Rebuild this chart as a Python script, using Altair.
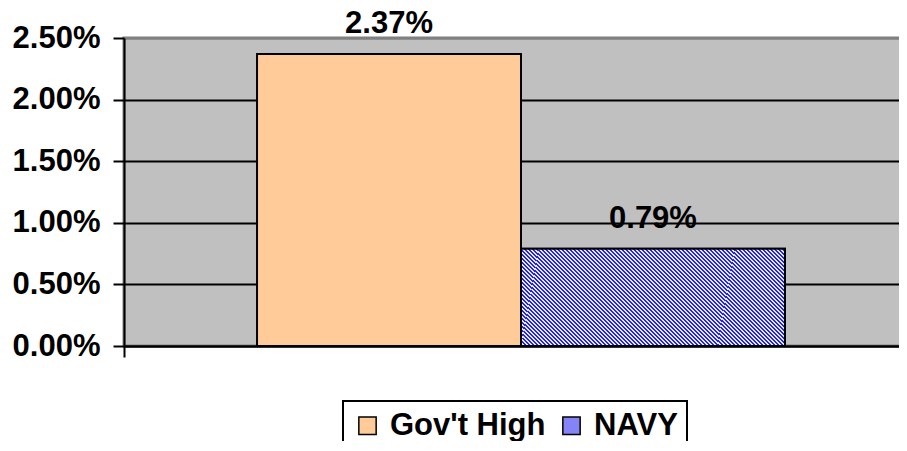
import altair as alt
import pandas as pd

categories = ["Gov't High", "NAVY"]
values = [0.0237, 0.0079]
labels = ["2.37%", "0.79%"]
y_ticks = [0.0, 0.005, 0.01, 0.015, 0.02, 0.025]

df = pd.DataFrame({"grp": ["all"] * len(categories), "series": categories,
                   "value": values, "label": labels})

FONT = "Liberation Sans"
FS = 31
PEACH = "#FFCC99"
NAVY_MIX = "#8484F7"

# diagonal hatch built as a hard-stop linear gradient
N = 90
blue, light = "#2424F2", "#E8E8FF"
stops = []
for k in range(N):
    a, m, b = k / N, (k + 0.5) / N, (k + 1) / N
    stops += [alt.GradientStop(offset=a, color=blue), alt.GradientStop(offset=m, color=blue),
              alt.GradientStop(offset=m, color=light), alt.GradientStop(offset=b, color=light)]
hatch = alt.Gradient(gradient="linear", stops=stops, x1=0, y1=1, x2=1.205, y2=0.553)

x_enc = alt.X("grp:N", scale=alt.Scale(paddingInner=0, paddingOuter=0),
              axis=alt.Axis(labels=False, title=None, ticks=True, tickSize=11, tickWidth=2,
                            tickColor="black", domainColor="black", domainWidth=2,
                            bandPosition=0, grid=False))
xo_enc = alt.XOffset("series:N", sort=categories,
                     scale=alt.Scale(paddingOuter=0.504, paddingInner=0))
y_enc = alt.Y("value:Q", scale=alt.Scale(domain=[0, 0.025], nice=False),
              axis=alt.Axis(values=y_ticks, format=".2%", title=None, labelFont=FONT,
                            labelFontSize=FS, labelFontWeight="bold", labelColor="black",
                            labelPadding=13, tickSize=11, tickWidth=2, tickColor="black",
                            domainColor="black", domainWidth=2, gridWidth=2,
                            gridColor={"condition": {"test": "datum.value >= 0.025", "value": "#808080"},
                                       "value": "black"}))

base = alt.Chart(df)

bars = base.mark_bar(stroke="black", strokeWidth=2, opacity=1).encode(
    x=x_enc, xOffset=xo_enc, y=y_enc,
    color=alt.Color("series:N", sort=categories,
                    scale=alt.Scale(domain=categories, range=[PEACH, NAVY_MIX]),
                    legend=alt.Legend(title=None, orient="none", direction="horizontal",
                                      legendX=219, legendY=363, strokeColor="black",
                                      fillColor="white", padding=9, symbolType="square",
                                      symbolSize=300, symbolStrokeColor="black",
                                      symbolStrokeWidth=1.5, symbolOpacity=1,
                                      labelFont=FONT, labelFontSize=FS, labelFontWeight="bold",
                                      labelColor="black", labelOffset=7, columnPadding=10)),
)

hatched = base.transform_filter(alt.datum.series == "NAVY").mark_bar(
    fill=hatch, stroke="black", strokeWidth=2, opacity=1).encode(
    x=x_enc, xOffset=xo_enc, y=y_enc)

text = base.mark_text(font=FONT, fontSize=FS, fontWeight="bold", color="black",
                      baseline="alphabetic", dy=-21).encode(
    x=x_enc, xOffset=xo_enc, y=y_enc, text="label:N")

chart = alt.layer(bars, hatched, text).properties(
    width=794, height=308,
    padding={"left": 116, "top": 30, "right": -19, "bottom": 95},
    autosize=alt.AutoSizeParams(type="none"),
).configure_view(fill="#C0C0C0", stroke="#808080", strokeWidth=3
).configure_legend(strokeWidth=2)

chart.save("out.html", embed_options={"renderer": "svg", "actions": False})
